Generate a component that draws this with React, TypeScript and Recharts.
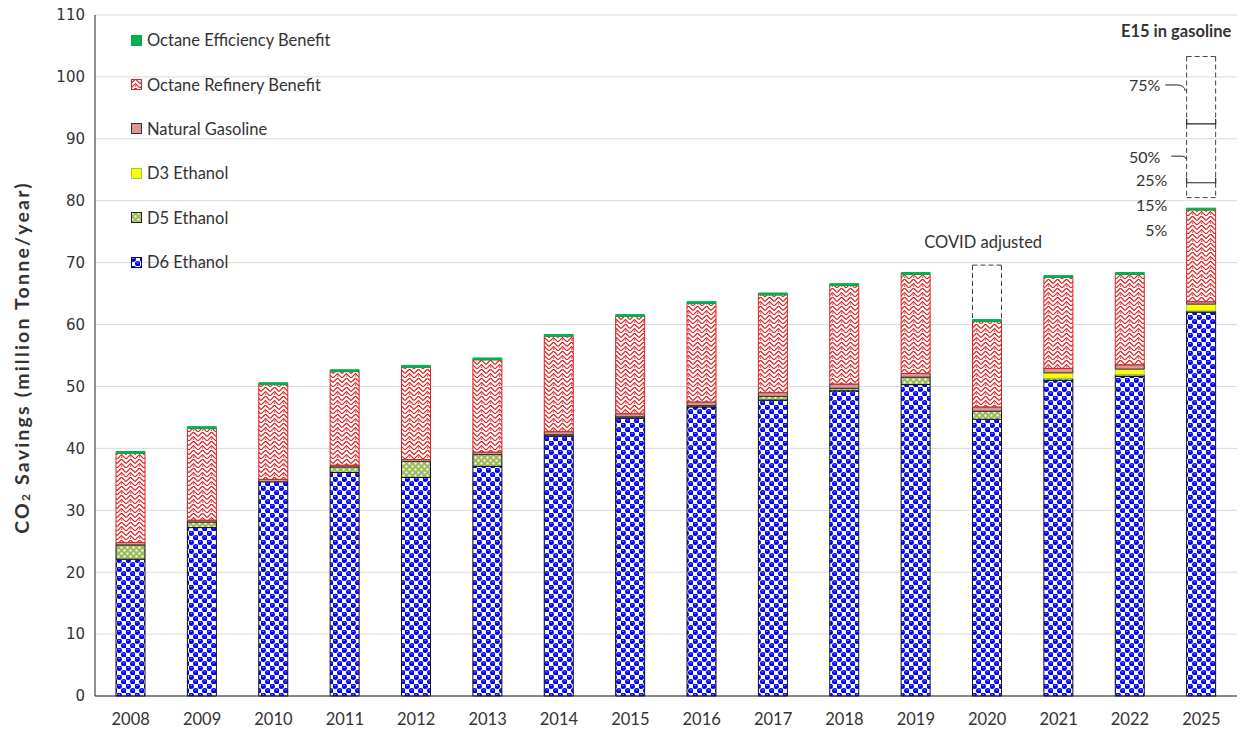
import React from 'react';
import {
  BarChart,
  Bar,
  XAxis,
  YAxis,
  CartesianGrid,
  ReferenceDot,
} from 'recharts';

const years = ['2008', '2009', '2010', '2011', '2012', '2013', '2014', '2015', '2016', '2017', '2018', '2019', '2020', '2021', '2022', '2025'];
const d6Ethanol = [22.1, 27.2, 34.6, 36.1, 35.3, 37.1, 42.0, 44.9, 46.7, 47.8, 49.3, 50.3, 44.7, 51.0, 51.6, 62.0];
const d5Ethanol = [2.3, 0.9, 0, 0.9, 2.6, 1.9, 0.2, 0.2, 0.2, 0.6, 0.4, 1.2, 1.3, 0.3, 0.3, 0.2];
const d3Ethanol = [0, 0, 0, 0, 0, 0, 0, 0, 0, 0, 0, 0, 0, 0.9, 0.9, 1.1];
const naturalGasoline = [0.4, 0.3, 0.4, 0.3, 0.3, 0.4, 0.5, 0.5, 0.6, 0.6, 0.7, 0.6, 0.7, 0.7, 0.7, 0.4];
const octaneRefinery = [14.4, 14.8, 15.3, 15.1, 14.9, 14.9, 15.4, 15.7, 15.9, 15.8, 15.9, 16.0, 13.8, 14.7, 14.6, 14.8];
const octaneEfficiency = [0.3, 0.3, 0.3, 0.3, 0.3, 0.3, 0.3, 0.3, 0.3, 0.3, 0.3, 0.3, 0.3, 0.3, 0.3, 0.3];

// 2020 dashed box (COVID adjusted total) and 2025 E15 scenario levels
const covidYear = '2020';
const covidAdjustedTotal = 69.6;
const e15Year = '2025';
const e15Levels = [80.5, 82.9, 92.4, 103.3];

const yTicks = [0, 10, 20, 30, 40, 50, 60, 70, 80, 90, 100, 110];

const data = years.map((year, i) => {
  const total = d6Ethanol[i] + d5Ethanol[i] + d3Ethanol[i] + naturalGasoline[i] + octaneRefinery[i] + octaneEfficiency[i];
  const row: any = {
    year,
    d6: d6Ethanol[i],
    d5: d5Ethanol[i],
    d3: d3Ethanol[i],
    ng: naturalGasoline[i],
    orb: octaneRefinery[i],
    oeb: octaneEfficiency[i],
  };
  if (year === covidYear) row.covid = covidAdjustedTotal - total;
  if (year === e15Year) {
    row.e15gap = e15Levels[0] - total;
    row.e15a = e15Levels[1] - e15Levels[0];
    row.e15b = e15Levels[2] - e15Levels[1];
    row.e15c = e15Levels[3] - e15Levels[2];
  }
  return row;
});

const FONT = 'Lato, "Open Sans", sans-serif';
const TEXT = '#333';

const legendItems = [
  { name: 'Octane Efficiency Benefit', fill: '#00B050', stroke: '#00B050' },
  { name: 'Octane Refinery Benefit', fill: 'url(#pORB)', stroke: '#E02020' },
  { name: 'Natural Gasoline', fill: '#D99694', stroke: '#333' },
  { name: 'D3 Ethanol', fill: '#FFFF00', stroke: '#92D050' },
  { name: 'D5 Ethanol', fill: 'url(#pD5)', stroke: '#222' },
  { name: 'D6 Ethanol', fill: 'url(#pD6)', stroke: '#000080' },
];

const dashed = (opts: { top?: boolean; bottom?: boolean; solidTop?: boolean }) => (props: any) => {
  const { x, y, width, height } = props;
  if (!height || height <= 0) return <g />;
  const s = '#404040';
  return (
    <g>
      <line x1={x} y1={y} x2={x} y2={y + height} stroke={s} strokeDasharray="5 3" />
      <line x1={x + width} y1={y} x2={x + width} y2={y + height} stroke={s} strokeDasharray="5 3" />
      {opts.top && <line x1={x} y1={y} x2={x + width} y2={y} stroke={s} strokeDasharray="5 3" />}
      {opts.bottom && <line x1={x} y1={y + height} x2={x + width} y2={y + height} stroke={s} strokeDasharray="5 3" />}
      {opts.solidTop && (
        <path d={`M${x},${y - 5} L${x},${y} L${x + width},${y} L${x + width},${y - 5}`} fill="none" stroke="#222" strokeWidth={1.2} />
      )}
    </g>
  );
};

const YLabel = (props: any) => {
  const vb = props.viewBox || { x: 0, y: 15, width: 95, height: 681 };
  const cx = vb.x + 21;
  const cy = vb.y + vb.height / 2 + 2;
  return (
    <text
      x={cx}
      y={cy}
      transform={`rotate(-90 ${cx} ${cy})`}
      textAnchor="middle"
      dominantBaseline="central"
      fontFamily={FONT}
      fontWeight="bold"
      fontSize={19.5}
      letterSpacing={2.2}
      fill={TEXT}
    >
      <tspan>CO</tspan>
      <tspan dy={4} fontSize={12}>2</tspan>
      <tspan dy={-4}> Savings (million Tonne/year)</tspan>
    </text>
  );
};

const textAt = (label: string, dx: number, anchor: string, opts: any = {}) => (p: any) => (
  <text
    x={p.cx + dx}
    y={p.cy}
    textAnchor={anchor}
    dominantBaseline="central"
    fontFamily={FONT}
    fontSize={opts.size || 16}
    fontWeight={opts.bold ? 'bold' : 'normal'}
    fill={TEXT}
  >
    {label}
  </text>
);

const leader = (label: string, d: string) => (p: any) => (
  <g>
    <text x={p.cx - 41} y={p.cy} textAnchor="end" dominantBaseline="central" fontFamily={FONT} fontSize={16} fill={TEXT}>
      {label}
    </text>
    <path d={d.replace(/(-?\d+(\.\d+)?),(-?\d+(\.\d+)?)/g, (_m, a, _b, c) => `${p.cx + Number(a)},${p.cy + Number(c)}`)} fill="none" stroke="#222" strokeWidth={1} />
  </g>
);

const App = () => {
  return (
    <div style={{ position: 'absolute', left: 0, top: 0, width: 1241, height: 732, background: '#fff' }}>
      <BarChart
        width={1241}
        height={732}
        data={data}
        margin={{ top: 15, right: 4, bottom: 0, left: 0 }}
        barSize={29}
      >
        <defs>
          <pattern id="pD6" width="9" height="9" patternUnits="userSpaceOnUse">
            <rect width="9" height="9" fill="#fff" />
            <circle cx="2.25" cy="2.25" r="2.7" fill="#0000FF" />
            <circle cx="6.75" cy="6.75" r="2.7" fill="#0000FF" />
            <line x1="1.2" y1="1.4" x2="3.2" y2="1.4" stroke="#9fa8ff" strokeWidth="0.8" />
            <line x1="5.7" y1="5.9" x2="7.7" y2="5.9" stroke="#9fa8ff" strokeWidth="0.8" />
          </pattern>
          <pattern id="pD5" width="6" height="6" patternUnits="userSpaceOnUse">
            <rect width="6" height="6" fill="#9BBB59" />
            <rect x="0.5" y="0.5" width="2" height="2" fill="#fff" />
            <rect x="3.5" y="3.5" width="2" height="2" fill="#fff" />
          </pattern>
          <pattern id="pORB" width="9" height="9" patternUnits="userSpaceOnUse">
            <rect width="9" height="9" fill="#fff" />
            <path d="M0,4.5 L4.5,0 L9,4.5 M0,9 L4.5,4.5 L9,9" fill="none" stroke="#E02020" strokeWidth="1.2" />
            <rect x="4" y="6.5" width="1.2" height="1.2" fill="#E02020" />
          </pattern>
        </defs>
        <CartesianGrid vertical={false} stroke="#D9D9D9" />
        <XAxis
          dataKey="year"
          height={36}
          axisLine={{ stroke: '#222' }}
          tickLine={false}
          tickMargin={11}
          tick={{ fontFamily: FONT, fontSize: 16.5, fill: TEXT }}
          interval={0}
        />
        <XAxis xAxisId="top" dataKey="year" orientation="top" height={0} tick={false} tickLine={false} axisLine={{ stroke: '#222' }} />
        <YAxis
          width={95}
          domain={[0, 110]}
          ticks={yTicks}
          interval={0}
          axisLine={{ stroke: '#222' }}
          tickLine={false}
          tickMargin={4}
          tick={{ fontFamily: '"DejaVu Sans", sans-serif', fontSize: 15, fill: TEXT }}
          label={<YLabel />}
        />
        <YAxis yAxisId="right" orientation="right" width={0} domain={[0, 110]} tick={false} tickLine={false} axisLine={{ stroke: '#222' }} />
        <Bar dataKey="d6" stackId="s" fill="url(#pD6)" stroke="#111" strokeWidth={1} isAnimationActive={false} />
        <Bar dataKey="d5" stackId="s" fill="url(#pD5)" stroke="#111" strokeWidth={1} isAnimationActive={false} />
        <Bar dataKey="d3" stackId="s" fill="#FFFF00" stroke="#92D050" strokeWidth={1} isAnimationActive={false} />
        <Bar dataKey="ng" stackId="s" fill="#D99694" stroke="#333" strokeWidth={1} isAnimationActive={false} />
        <Bar dataKey="orb" stackId="s" fill="url(#pORB)" stroke="#E02020" strokeWidth={1} isAnimationActive={false} />
        <Bar dataKey="oeb" stackId="s" fill="#00B050" stroke="#00B050" strokeWidth={1} isAnimationActive={false} />
        <Bar dataKey="covid" stackId="s" shape={dashed({ top: true })} isAnimationActive={false} />
        <Bar dataKey="e15gap" stackId="s" shape={() => <g />} isAnimationActive={false} />
        <Bar dataKey="e15a" stackId="s" shape={dashed({ bottom: true, solidTop: true })} isAnimationActive={false} />
        <Bar dataKey="e15b" stackId="s" shape={dashed({ solidTop: true })} isAnimationActive={false} />
        <Bar dataKey="e15c" stackId="s" shape={dashed({ top: true })} isAnimationActive={false} />

        <ReferenceDot x="2025" y={107.4} r={0} shape={textAt('E15 in gasoline', 30, 'end', { bold: true, size: 16.5 })} />
        <ReferenceDot x="2020" y={73.3} r={0} shape={textAt('COVID adjusted', -4, 'middle', { size: 16.5 })} />
        <ReferenceDot x="2025" y={98.7} r={0} shape={leader('75%', 'M-36,0 L-24,0 Q-17,0 -16,6')} />
        <ReferenceDot x="2025" y={87.2} r={0} shape={leader('50%', 'M-30,0 L-19,0 Q-16,0 -15,3')} />
        <ReferenceDot x="2025" y={83.4} r={0} shape={textAt('25%', -34, 'end')} />
        <ReferenceDot x="2025" y={79.4} r={0} shape={textAt('15%', -34, 'end')} />
        <ReferenceDot x="2025" y={75.4} r={0} shape={textAt('5%', -34, 'end')} />
      </BarChart>

      <div style={{ position: 'absolute', left: 131, top: 18, fontFamily: FONT, fontSize: 16.5, color: TEXT }}>
        {legendItems.map((it) => (
          <div key={it.name} style={{ height: 44.4, display: 'flex', alignItems: 'center' }}>
            <svg width={11} height={11} style={{ marginRight: 5 }}>
              <rect x={0.5} y={0.5} width={10} height={10} fill={it.fill} stroke={it.stroke} />
            </svg>
            <span>{it.name}</span>
          </div>
        ))}
      </div>
    </div>
  );
};

export default App;
